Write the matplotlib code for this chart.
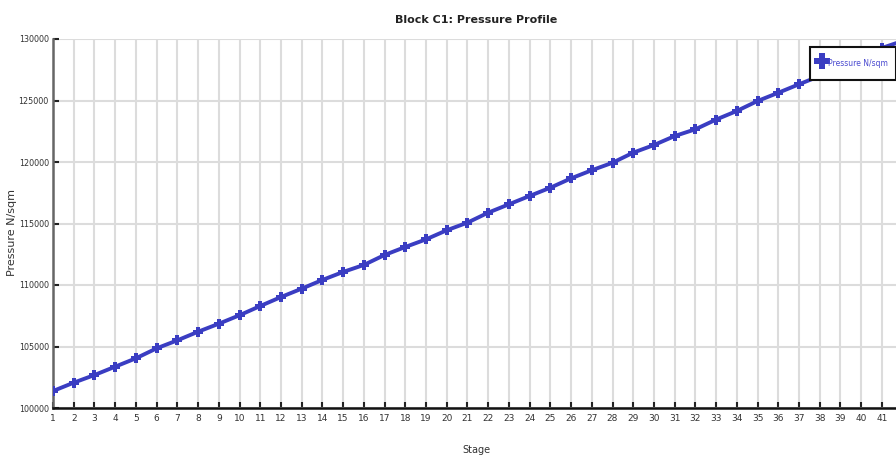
import matplotlib
matplotlib.use("Agg")
import matplotlib.pyplot as plt
from matplotlib.lines import Line2D
import warnings
warnings.filterwarnings("ignore")

stages = list(range(1, 43))
pressure = [101380, 102060, 102680, 103360, 104040, 104850, 105500, 106200, 106850, 107540,
            108290, 109020, 109700, 110410, 111060, 111630, 112440, 113090, 113710, 114450,
            115070, 115880, 116560, 117240, 117910, 118670, 119330, 119940, 120760, 121380,
            122110, 122660, 123450, 124150, 124960, 125630, 126320, 126990, 127640, 128420,
            129270, 129840]
x_ticks = list(range(1, 42))
y_ticks = [100000, 105000, 110000, 115000, 120000, 125000, 130000]
title = "Block C1: Pressure Profile"
series_label = "Pressure N/sqm"
x_label = "Stage"
y_label = "Pressure N/sqm"

plt.rcParams["font.family"] = ["DejaVu Sans"]

line_color = "#3a3dc2"
fig = plt.figure(figsize=(8.96, 4.58), dpi=100)
ax = fig.add_axes([53 / 896, 50 / 458, 1 - 53 / 896, 369 / 458])

ax.plot(stages, pressure, color=line_color, lw=2.8, marker="P", markersize=7,
        markeredgewidth=0, zorder=3, clip_on=True)

ax.set_xlim(1, 41.68)
ax.set_ylim(100000, 130000)
ax.set_xticks(x_ticks)
ax.set_xticklabels([str(v) for v in x_ticks], fontsize=6.5, color="#333333")
ax.set_yticks(y_ticks)
ax.set_yticklabels([str(v) for v in y_ticks], fontsize=5.8, color="#333333")
ax.tick_params(axis="both", direction="in", length=4, width=1.5, color="#222222", pad=4)
ax.tick_params(axis="y", pad=3)
ax.grid(True, color="#dcdcdc", lw=1.5)
ax.set_axisbelow(True)

for s in ["top", "right"]:
    ax.spines[s].set_visible(False)
ax.spines["left"].set_color("#666666")
ax.spines["left"].set_linewidth(1.8)
ax.spines["bottom"].set_color("#111111")
ax.spines["bottom"].set_linewidth(1.8)

fig.text(476 / 896, 1 - 20 / 458, title, ha="center", va="center",
         fontsize=8, fontweight="bold", color="#222222")
fig.text(476 / 896, 1 - 450 / 458, x_label, ha="center", va="center",
         fontsize=7, color="#333333")
fig.text(12 / 896, 1 - 232 / 458, y_label, ha="center", va="center",
         rotation=90, fontsize=8, color="#333333")

handle = Line2D([], [], color=line_color, marker="P", markersize=11,
                markeredgewidth=0, linestyle="none")
leg = ax.legend([handle], [series_label], loc="upper left",
                bbox_to_anchor=(0.898, 0.978), fontsize=5.5, labelcolor="#4a4ad0",
                frameon=True, fancybox=False, edgecolor="#111111", framealpha=1,
                handletextpad=0.2, borderpad=1.1, handlelength=1.0, handleheight=2.8,
                borderaxespad=0)
leg.get_frame().set_linewidth(1.5)
leg.set_zorder(5)

fig.savefig("out.png", dpi=100)
